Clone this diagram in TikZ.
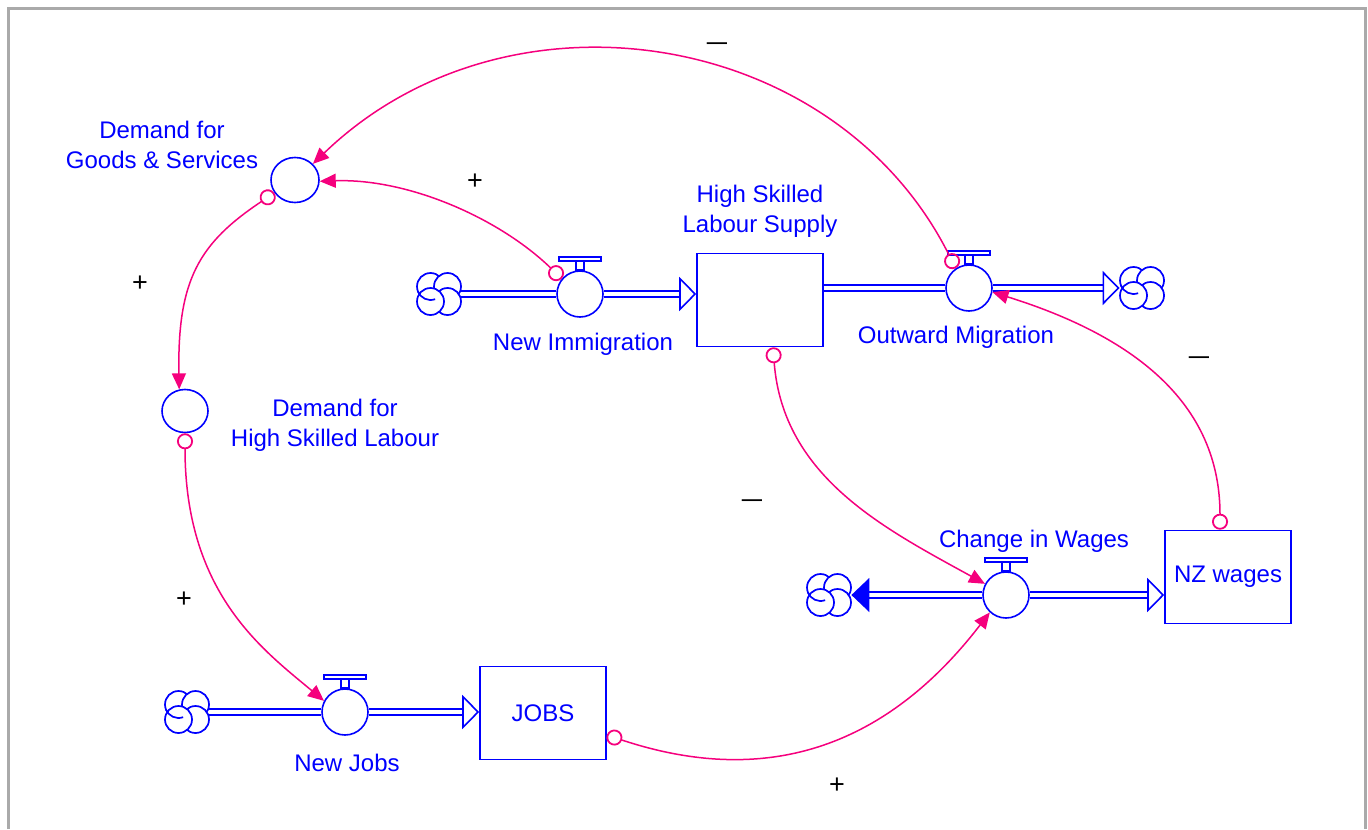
\documentclass[tikz,border=0pt]{standalone}
\usepackage{fontspec}
\usepackage{graphicx}
\setmainfont{Liberation Sans}
\usetikzlibrary{arrows.meta,shapes.geometric}
\definecolor{vblue}{RGB}{0,0,255}
\definecolor{lpink}{RGB}{245,0,125}
\definecolor{framegray}{RGB}{170,170,170}
\tikzset{
  flowline/.style={draw=vblue,line width=0.8pt},
  pipe/.style={draw=vblue,line width=0.8pt,double=white,double distance=2.2pt},
  inflow/.style={pipe,-{Triangle[fill=white,length=8.5pt,width=17pt]}},
  outflow/.style={pipe,-{Triangle[fill=vblue,length=9pt,width=17pt]}},
  stock/.style={flowline,fill=white,rectangle,minimum width=63pt,minimum height=46.5pt,inner sep=0pt,text=vblue,font=\fontsize{12}{15}\selectfont},
  valve/.style={flowline,fill=white,circle,minimum size=23pt,inner sep=0pt},
  aux/.style={flowline,fill=white,ellipse,minimum width=23pt,minimum height=21.5pt,inner sep=0pt},
  cloudbox/.style={rectangle,minimum width=22pt,minimum height=21pt,inner sep=0pt},
  lbl/.style={text=vblue,align=center,font=\fontsize{12}{15}\selectfont,inner sep=0pt},
  sign/.style={text=black,font=\fontsize{13.5}{15}\selectfont,inner sep=0pt},
  link/.style={draw=lpink,line width=0.75pt,{Circle[open,length=8pt,line width=0.9pt]}-{Triangle[length=8pt,width=7pt]}},
  cloud/.pic={
    \foreach \dx/\dy in {-8.5/-7.5,8.5/-7.5,8.5/7.5,-8.5/7.5} \draw[flowline,line width=0.85pt,fill=white] (\dx,\dy) circle[radius=6.75pt];
    \draw[flowline,line width=0.85pt] (-8.5,-7.5) ++(200:6.75pt) arc[start angle=200,end angle=290,radius=6.75pt];
  }
}
\newcommand{\negsign}{\scalebox{1.35}[1]{\textendash}}
\begin{document}
\begin{tikzpicture}[x=0.5pt,y=-0.5pt]
\useasboundingbox (0,0) rectangle (1368,829);
\draw[framegray,line width=1.5pt] (8,829) -- (8,9) -- (1365,9) -- (1365,829);

% stocks, valves, clouds
\node[stock] (hs) at (760,300) {};
\node[stock] (nz) at (1228,577) {NZ wages};
\node[stock] (jobs) at (543,713) {JOBS};
\node[cloudbox] (cimm) at (439,294) {};
\node[cloudbox] (cout) at (1142,288) {};
\node[cloudbox] (cwage) at (829,595) {};
\node[cloudbox] (cjob) at (187,712) {};
\node[valve] (vimm) at (580,294) {};
\node[valve] (vout) at (969,288) {};
\node[valve] (vwage) at (1006,595) {};
\node[valve] (vjob) at (345,712) {};
\foreach \c in {cimm,cout,cwage,cjob} \pic at (\c) {cloud};
\foreach \v in {vimm,vout,vwage,vjob} {
  \draw[flowline,fill=white] ([xshift=-2pt]\v.north) rectangle ([xshift=2pt,yshift=4.5pt]\v.north);
  \draw[flowline,fill=white] ([xshift=-10.5pt,yshift=4.5pt]\v.north) rectangle ([xshift=10.5pt,yshift=6.5pt]\v.north);
}
\node[aux,minimum width=24pt,minimum height=22.5pt] (dgs) at (295,180) {};
\node[aux] (dhsl) at (185,411) {};

% pipes
\draw[pipe] (cimm.east) -- (vimm.west);
\draw[inflow] (vimm.east) -- (vimm -| hs.west);
\draw[pipe] (vout -| hs.east) -- (vout.west);
\draw[inflow] (vout.east) -- (cout.west);
\draw[outflow] (vwage.west) -- (cwage.east);
\draw[inflow] (vwage.east) -- (vwage -| nz.west);
\draw[pipe] (cjob.east) -- (vjob.west);
\draw[inflow] (vjob.east) -- (vjob -| jobs.west);

% labels
\node[lbl] (ldgs) at (162,145) {Demand for\\Goods \& Services};
\node[lbl] (lhs) at (760,211) {High Skilled\\Labour Supply};
\node[lbl] (limm) at (583,344) {New Immigration};
\node[lbl] (lout) at (956,337) {Outward Migration};
\node[lbl] (ldhsl) at (335,425) {Demand for\\High Skilled Labour};
\node[lbl] (lwage) at (1034,541) {Change in Wages};
\node[lbl] (ljob) at (347,763) {New Jobs};

% causal links
\draw[link] (vout.124) .. controls +(-121,-241) and +(194,-187) .. (dgs.42);
\draw[link] (vimm.140) .. controls +(-63,-61) and +(88,-3) .. (dgs.-3);
\draw[link] (dgs.212) .. controls +(-75,50) and +(-2,-110) .. (dhsl.105);
\draw[link] (dhsl.south) .. controls +(0,160) and +(-61,-51) .. (vjob.152);
\draw[link] ([xshift=6.5pt]hs.south) .. controls +(10,130) and +(-100,-55) .. (vwage.152);
\draw[link] ([yshift=-11pt]jobs.east) .. controls +(165,55) and +(-100,130) .. (vwage.227);
\draw[link] ([xshift=-4pt]nz.north) .. controls +(0,-135) and +(128,40) .. (vout.-10);

% polarities
\node[sign] (s1) at (717,47) {\negsign};
\node[sign] (s2) at (475,182) {+};
\node[sign] (s3) at (140,284) {+};
\node[sign] (s4) at (184,600) {+};
\node[sign] (s5) at (752,504) {\negsign};
\node[sign] (s6) at (837,786) {+};
\node[sign] (s7) at (1199,361) {\negsign};
\end{tikzpicture}
\end{document}
